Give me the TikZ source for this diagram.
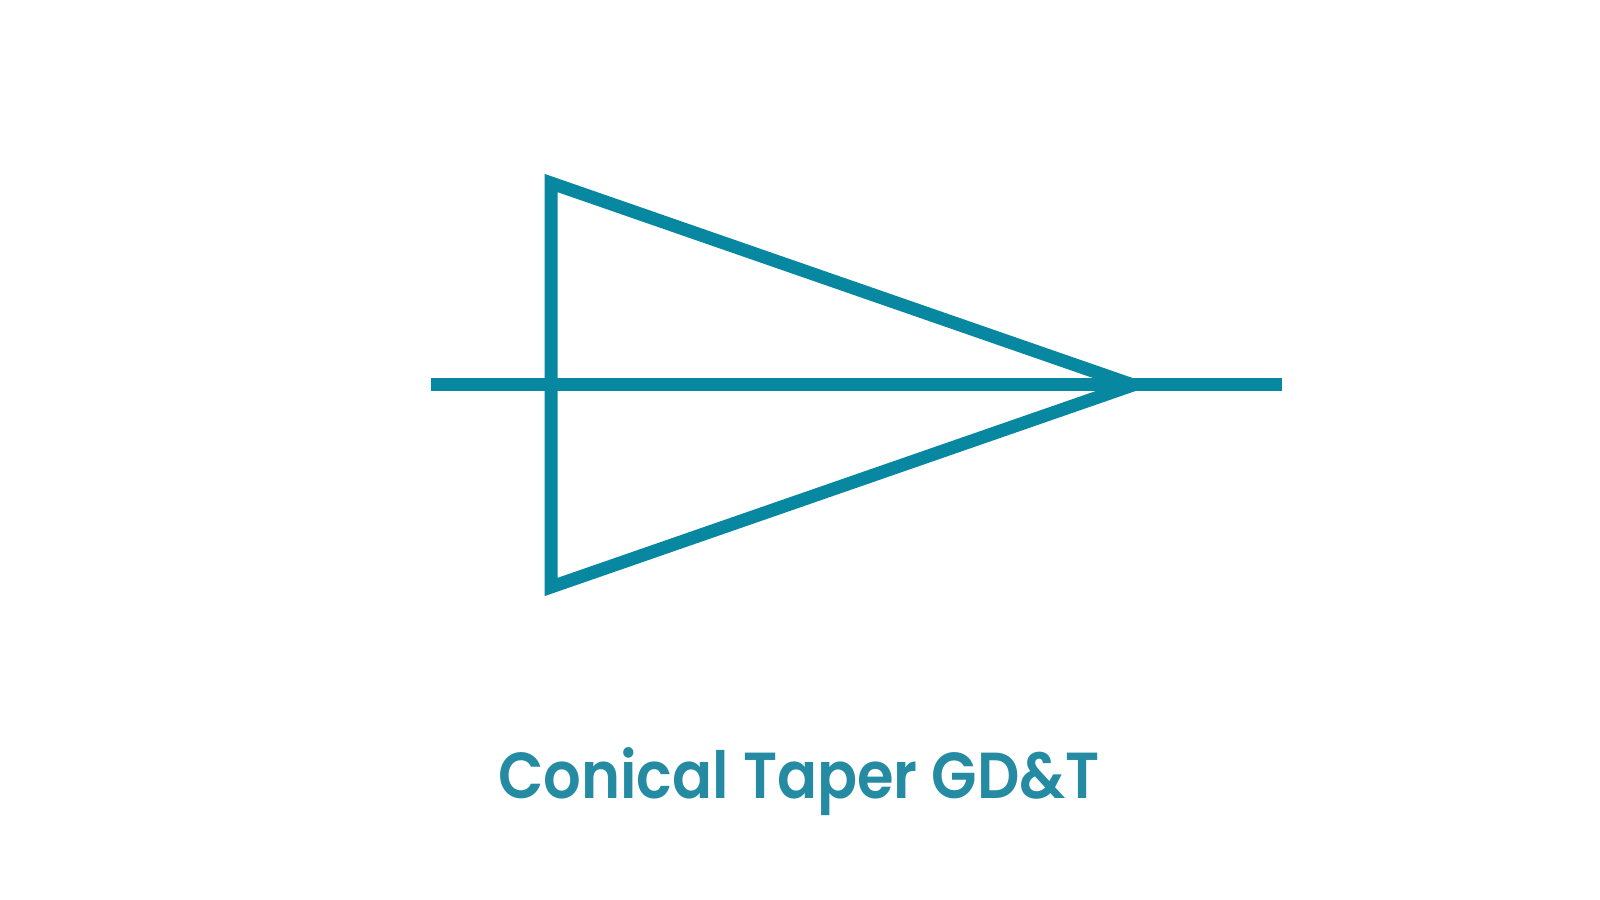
\documentclass[tikz,border=0pt]{standalone}
\usepackage{fontspec}
\setmainfont{Poppins}
\newfontfamily\capfont{Poppins}[UprightFont=* SemiBold,FakeStretch=0.91]
\usetikzlibrary{positioning}
\definecolor{taperline}{RGB}{8,136,160}
\definecolor{tapertext}{RGB}{36,139,163}
\tikzset{symline/.style={draw=taperline,line width=1.3mm,line join=miter}}
\tikzset{caption/.style={text=tapertext,font=\capfont\fontsize{18.5}{22}\selectfont,inner sep=0pt,anchor=base}}

\begin{document}
\begin{tikzpicture}[x=0.1mm,y=-0.1mm]
    \useasboundingbox (0,0) rectangle (1600,900);
    \coordinate (top) at (551,183);
    \coordinate (bot) at (551,587);
    \coordinate (apex) at (1133,385);
    \coordinate (lend) at (431,385);
    \coordinate (rend) at (1282,385);

    \node[caption] (title) at (799,798) {Conical Taper GD\&T};

        \path[symline] (apex) -- (top) -- (bot) -- cycle;
        \path[symline] (lend) -- (rend);
  \end{tikzpicture}
\end{document}
